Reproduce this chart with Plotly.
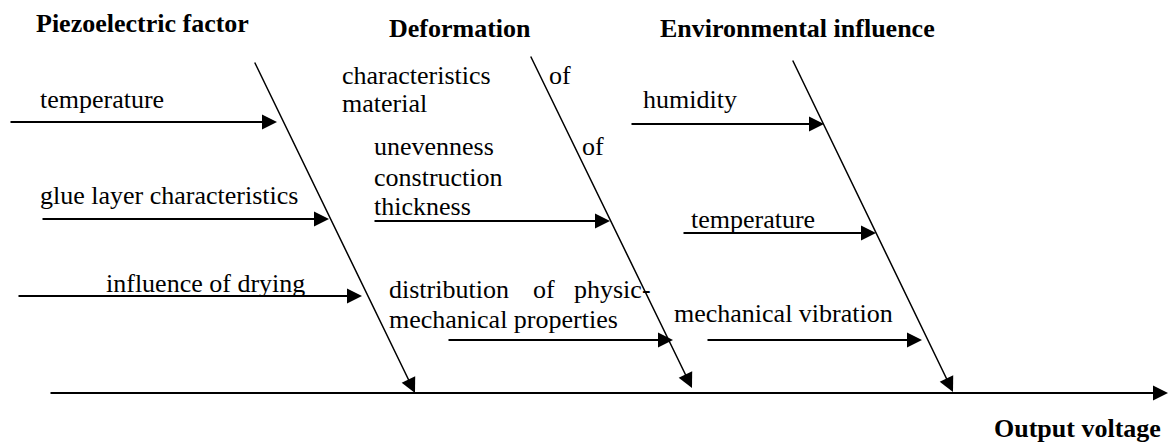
import re
import plotly.graph_objects as go

# ---- data ----
categories = ["Piezoelectric factor", "Deformation", "Environmental influence"]
effect = "Output voltage"
piezo_causes = ["temperature", "glue layer characteristics", "influence of drying"]
deform_causes = ["characteristics of material",
                 "unevenness of construction thickness",
                 "distribution of physic-mechanical properties"]
env_causes = ["humidity", "temperature", "mechanical vibration"]
causes = [piezo_causes, deform_causes, env_causes]

# ---- layout geometry (pixels, y downwards) ----
W, H = 1170, 445
FONT = "Liberation Serif, serif"
FS = 26

spine = (49, 1168, 393)
bone_top = [(254, 61), (530, 55), (792, 59)]
bone_tip = [(415, 393), (692, 388), (953, 392)]
title_pos = [(35, 23), (388, 28), (659, 28)]
effect_pos = (993, 444)
# sub arrows: (x_start, x_tip, y)
sub_arrows = [
    [(9, 277, 122), (41, 329, 219), (17, 362, 296)],
    [None, (373, 610, 221), (447, 673, 340)],
    [(630, 824, 124), (682, 876, 233), (706, 922, 340)],
]
# label fragments: (first word, end word, x, y)
label_frags = [
    [[(0, 1, 39, 99)], [(0, 3, 39, 195)], [(0, 3, 105, 283)]],
    [[(0, 1, 341, 75), (1, 2, 548, 75), (2, 3, 341, 103)],
     [(0, 1, 373, 146), (1, 2, 581, 146), (2, 3, 373, 177), (3, 4, 373, 206)],
     [(0, 1, 388, 289), (1, 2, 532, 289), (2, 3, 573, 289), (3, 5, 388, 319)]],
    [[(0, 1, 642, 99)], [(0, 1, 690, 219)], [(0, 2, 673, 313)]],
]


def words(s):
    return re.findall(r"[^\s-]+-?", s)


def arrow(x0, y0, x1, y1, width, size):
    return dict(x=x1, y=y1, ax=x0, ay=y0, xref="x", yref="y", axref="x", ayref="y",
                text="", showarrow=True, arrowhead=2, arrowsize=size, arrowwidth=width,
                arrowcolor="black", standoff=0, startstandoff=0)


def label(text, x, y, bold=False, yanchor="middle"):
    t = f"<b>{text}</b>" if bold else text
    return dict(x=x, y=y, xref="x", yref="y", text=t, showarrow=False,
                xanchor="left", yanchor=yanchor, borderpad=0,
                font=dict(family=FONT, size=FS, color="black"))


annotations = []
# spine
annotations.append(arrow(spine[0], spine[2], spine[1], spine[2], 2, 1.5))
for i, cat in enumerate(categories):
    annotations.append(label(cat, *title_pos[i], bold=True))
    annotations.append(arrow(*bone_top[i], *bone_tip[i], 1.5, 2))
    for j, cause in enumerate(causes[i]):
        sa = sub_arrows[i][j]
        if sa is not None:
            annotations.append(arrow(sa[0], sa[2], sa[1], sa[2], 2, 1.5))
        w = words(cause)
        for a, b, x, y in label_frags[i][j]:
            annotations.append(label(" ".join(w[a:b]), x, y))
annotations.append(label(effect, *effect_pos, bold=True, yanchor="bottom"))

fig = go.Figure()
fig.add_trace(go.Scatter(x=[0, W], y=[0, H], mode="markers",
                         marker=dict(opacity=0), hoverinfo="skip", showlegend=False))
fig.update_layout(
    width=W, height=H, margin=dict(l=0, r=0, t=0, b=0),
    paper_bgcolor="white", plot_bgcolor="white",
    xaxis=dict(range=[0, W], visible=False, fixedrange=True),
    yaxis=dict(range=[H, 0], visible=False, fixedrange=True),
    annotations=annotations, showlegend=False,
)
fig.write_html("out.html", config={"displayModeBar": False},
               post_script="document.body.style.margin='0';document.body.style.overflow='hidden';")
